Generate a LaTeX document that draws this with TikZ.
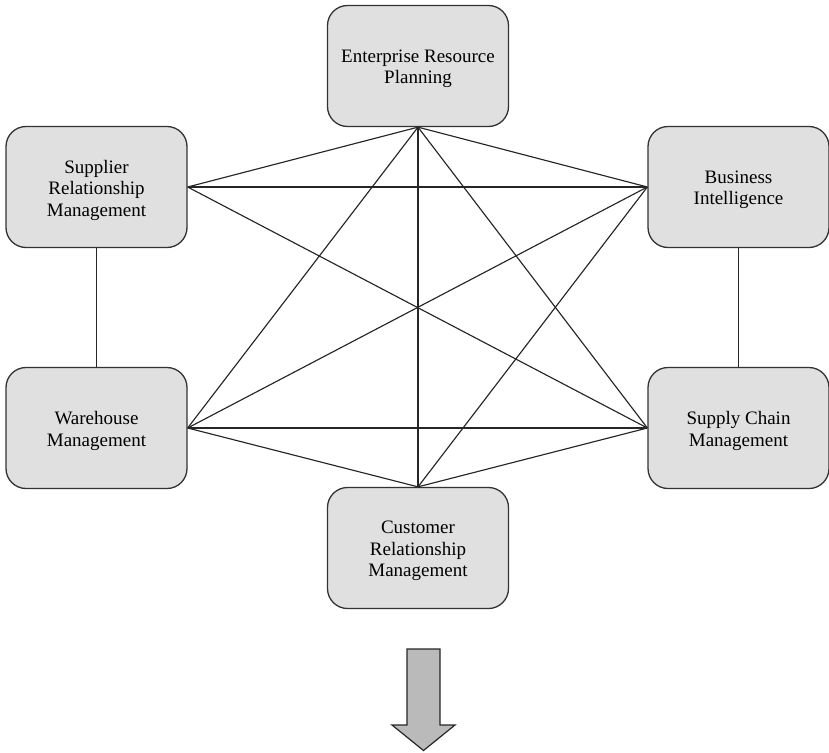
\documentclass[tikz,border=0pt]{standalone}
\usepackage{fontspec}
\setmainfont{Liberation Serif}
\begin{document}
\begin{tikzpicture}[x=1pt,y=-1pt,
  sysbox/.style={draw=black!80, line width=1.3pt, fill=black!12, rounded corners=20pt,
    minimum width=181pt, minimum height=121pt},
  systext/.style={align=center, inner sep=0pt, yshift=-3pt,
    font=\fontsize{19}{21.5}\selectfont},
  link/.style={draw=black!85, line width=1.15pt},
  downarrow/.style={draw=black!85, line width=1.2pt, fill=black!27, line join=miter}]
\useasboundingbox (0,0) rectangle (829,752);

% application systems
\node[sysbox] (erp) at (418,66)    {};
\node[sysbox] (srm) at (96.5,187)  {};
\node[sysbox] (bi)  at (738.5,187) {};
\node[sysbox] (wm)  at (96.5,428)  {};
\node[sysbox] (scm) at (738.5,428) {};
\node[sysbox] (crm) at (418,548)   {};

% system names
\node[systext] (erpt) at (erp.center) {Enterprise Resource\\Planning};
\node[systext] (srmt) at (srm.center) {Supplier\\Relationship\\Management};
\node[systext] (bit)  at (bi.center)  {Business\\Intelligence};
\node[systext] (wmt)  at (wm.center)  {Warehouse\\Management};
\node[systext] (scmt) at (scm.center) {Supply Chain\\Management};
\node[systext] (crmt) at (crm.center) {Customer\\Relationship\\Management};

% point-to-point interfaces
\draw[link] (erp.south) -- (srm.east);
\draw[link] (erp.south) -- (bi.west);
\draw[link] (erp.south) -- (wm.east);
\draw[link] (erp.south) -- (scm.west);
\draw[link] (erp.south) -- (crm.north);
\draw[link] (srm.east) -- (bi.west);
\draw[link] (srm.east) -- (scm.west);
\draw[link] (srm.south) -- (wm.north);
\draw[link] (bi.west) -- (wm.east);
\draw[link] (bi.west) -- (crm.north);
\draw[link] (bi.south) -- (scm.north);
\draw[link] (wm.east) -- (scm.west);
\draw[link] (wm.east) -- (crm.north);
\draw[link] (scm.west) -- (crm.north);

% block arrow below
\draw[downarrow] (407,649) -- (440,649) -- (440,725) -- (455,725) -- (423.5,750.5)
  -- (392,725) -- (407,725) -- cycle;
\end{tikzpicture}
\end{document}
